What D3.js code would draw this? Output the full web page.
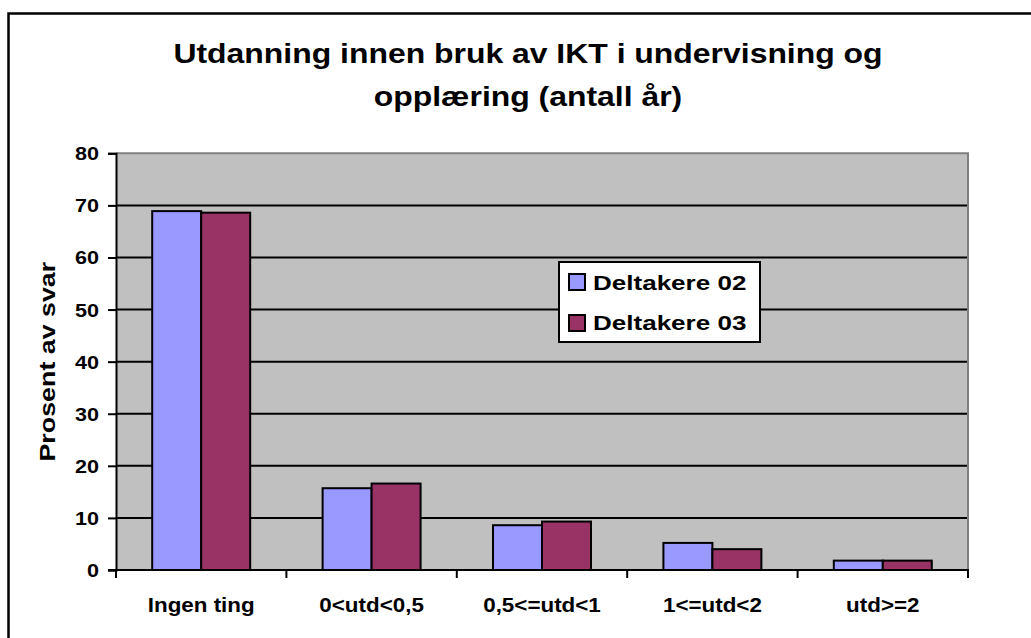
<!DOCTYPE html>
<html>
<head>
<meta charset="utf-8">
<script src="https://cdn.jsdelivr.net/npm/d3@7"></script>
<style>
  body { margin: 0; background: #ffffff; }
  text { font-family: Arial, "Liberation Sans", sans-serif; font-weight: bold; fill: #000; }
</style>
</head>
<body>
<div id="graph"></div>
<script>
// data
var categories = ["Ingen ting", "0<utd<0,5", "0,5<=utd<1", "1<=utd<2", "utd>=2"];
var seriesNames = ["Deltakere 02", "Deltakere 03"];
var deltakere02 = [68.9, 15.7, 8.6, 5.2, 1.8];
var deltakere03 = [68.6, 16.6, 9.3, 4.0, 1.8];
var yTicks = [0, 10, 20, 30, 40, 50, 60, 70, 80];
var titleLines = ["Utdanning innen bruk av IKT i undervisning og", "opplæring (antall år)"];
var yTitle = "Prosent av svar";

var colors = ["#9999ff", "#993366"];
var width = 1031, height = 638;
var plot = {left: 116, right: 968, top: 153.3, bottom: 570};

var svg = d3.select("#graph").append("svg")
    .attr("width", width)
    .attr("height", height);

// outer frame, runs off the right and bottom edge
svg.append("rect")
    .attr("x", 8.5).attr("y", 13.5)
    .attr("width", 1100).attr("height", 700)
    .attr("fill", "#fff")
    .attr("stroke", "#000")
    .attr("stroke-width", 2.5);

var x0 = d3.scaleBand()
    .domain(categories)
    .range([plot.left, plot.right])
    .paddingInner(0.425)
    .paddingOuter(0.2125);

var x1 = d3.scaleBand()
    .domain(seriesNames)
    .range([0, x0.bandwidth()]);

var y = d3.scaleLinear()
    .domain([0, 80])
    .range([plot.bottom, plot.top]);

// text stretched to the width seen in the picture
function wideText(parent, str, x, yy, size, sx, anchor, rotate) {
    var t = parent.append("text")
        .attr("font-size", size)
        .attr("text-anchor", anchor)
        .attr("transform", "translate(" + x + "," + yy + ")" + (rotate ? " rotate(" + rotate + ")" : "") + " scale(" + sx + ",1)")
        .text(str);
    return t;
}

// plot background
svg.append("rect")
    .attr("x", plot.left).attr("y", plot.top)
    .attr("width", plot.right - plot.left)
    .attr("height", plot.bottom - plot.top)
    .attr("fill", "#c0c0c0");

// gridlines
svg.append("g")
    .selectAll("line")
    .data(yTicks.filter(function (d) { return d > 0 && d < 80; }))
    .enter().append("line")
    .attr("x1", plot.left).attr("x2", plot.right)
    .attr("y1", function (d) { return y(d); })
    .attr("y2", function (d) { return y(d); })
    .attr("stroke", "#000")
    .attr("stroke-width", 2);

// grey border on top and right of plot
svg.append("path")
    .attr("d", "M" + plot.left + "," + plot.top + "H" + plot.right + "V" + plot.bottom)
    .attr("fill", "none")
    .attr("stroke", "#808080")
    .attr("stroke-width", 2);

// bars
var rows = categories.map(function (c, i) {
    return {cat: c, vals: [deltakere02[i], deltakere03[i]]};
});

var group = svg.selectAll("g.grp")
    .data(rows)
    .enter().append("g")
    .attr("class", "grp")
    .attr("transform", function (d) { return "translate(" + x0(d.cat) + ",0)"; });

group.selectAll("rect")
    .data(function (d) { return d.vals.map(function (v, j) { return {name: seriesNames[j], value: v, j: j}; }); })
    .enter().append("rect")
    .attr("x", function (d) { return x1(d.name); })
    .attr("y", function (d) { return y(d.value); })
    .attr("width", x1.bandwidth())
    .attr("height", function (d) { return y(0) - y(d.value); })
    .attr("fill", function (d) { return colors[d.j]; })
    .attr("stroke", "#000")
    .attr("stroke-width", 2);

// y axis
var yAxis = d3.axisLeft(y).tickValues(yTicks).tickSize(8).tickFormat("");
var ya = svg.append("g")
    .attr("transform", "translate(" + plot.left + ",0)")
    .call(yAxis);
ya.select(".domain").attr("stroke", "#000").attr("stroke-width", 2);
ya.selectAll(".tick line").attr("stroke", "#000").attr("stroke-width", 2);

yTicks.forEach(function (t) {
    wideText(svg, t, 99, y(t) + 7, 19, 1.136, "end");
});

// x axis with ticks on category borders
var borders = categories.map(function (c) { return x0(c) - x0.step() * x0.paddingInner() / 2; });
borders.push(plot.right);
var xa = svg.append("g");
xa.append("line")
    .attr("x1", plot.left - 8).attr("x2", plot.right + 1)
    .attr("y1", plot.bottom).attr("y2", plot.bottom)
    .attr("stroke", "#000").attr("stroke-width", 2);
xa.selectAll("line.tk")
    .data(borders)
    .enter().append("line")
    .attr("class", "tk")
    .attr("x1", function (d) { return d; }).attr("x2", function (d) { return d; })
    .attr("y1", plot.bottom).attr("y2", plot.bottom + 8)
    .attr("stroke", "#000").attr("stroke-width", 2);

categories.forEach(function (c) {
    wideText(svg, c, x0(c) + x0.bandwidth() / 2, 611.5, 20, 1.12, "middle");
});

// axis title
wideText(svg, yTitle, 55, (plot.top + plot.bottom) / 2, 22, 1.22, "middle", -90);

// chart title
wideText(svg, titleLines[0], 528, 63, 28, 1.14, "middle");
wideText(svg, titleLines[1], 528, 106, 28, 1.14, "middle");

// legend
var lg = svg.append("g").attr("transform", "translate(559,262)");
lg.append("rect")
    .attr("width", 201).attr("height", 80)
    .attr("fill", "#fff")
    .attr("stroke", "#000")
    .attr("stroke-width", 2);
seriesNames.forEach(function (s, i) {
    lg.append("rect")
        .attr("x", 10).attr("y", 12 + i * 41)
        .attr("width", 16).attr("height", 16)
        .attr("fill", colors[i])
        .attr("stroke", "#000")
        .attr("stroke-width", 2);
    wideText(lg, s, 34, 28 + i * 39.5, 21, 1.24, "start");
});
</script>
</body>
</html>
